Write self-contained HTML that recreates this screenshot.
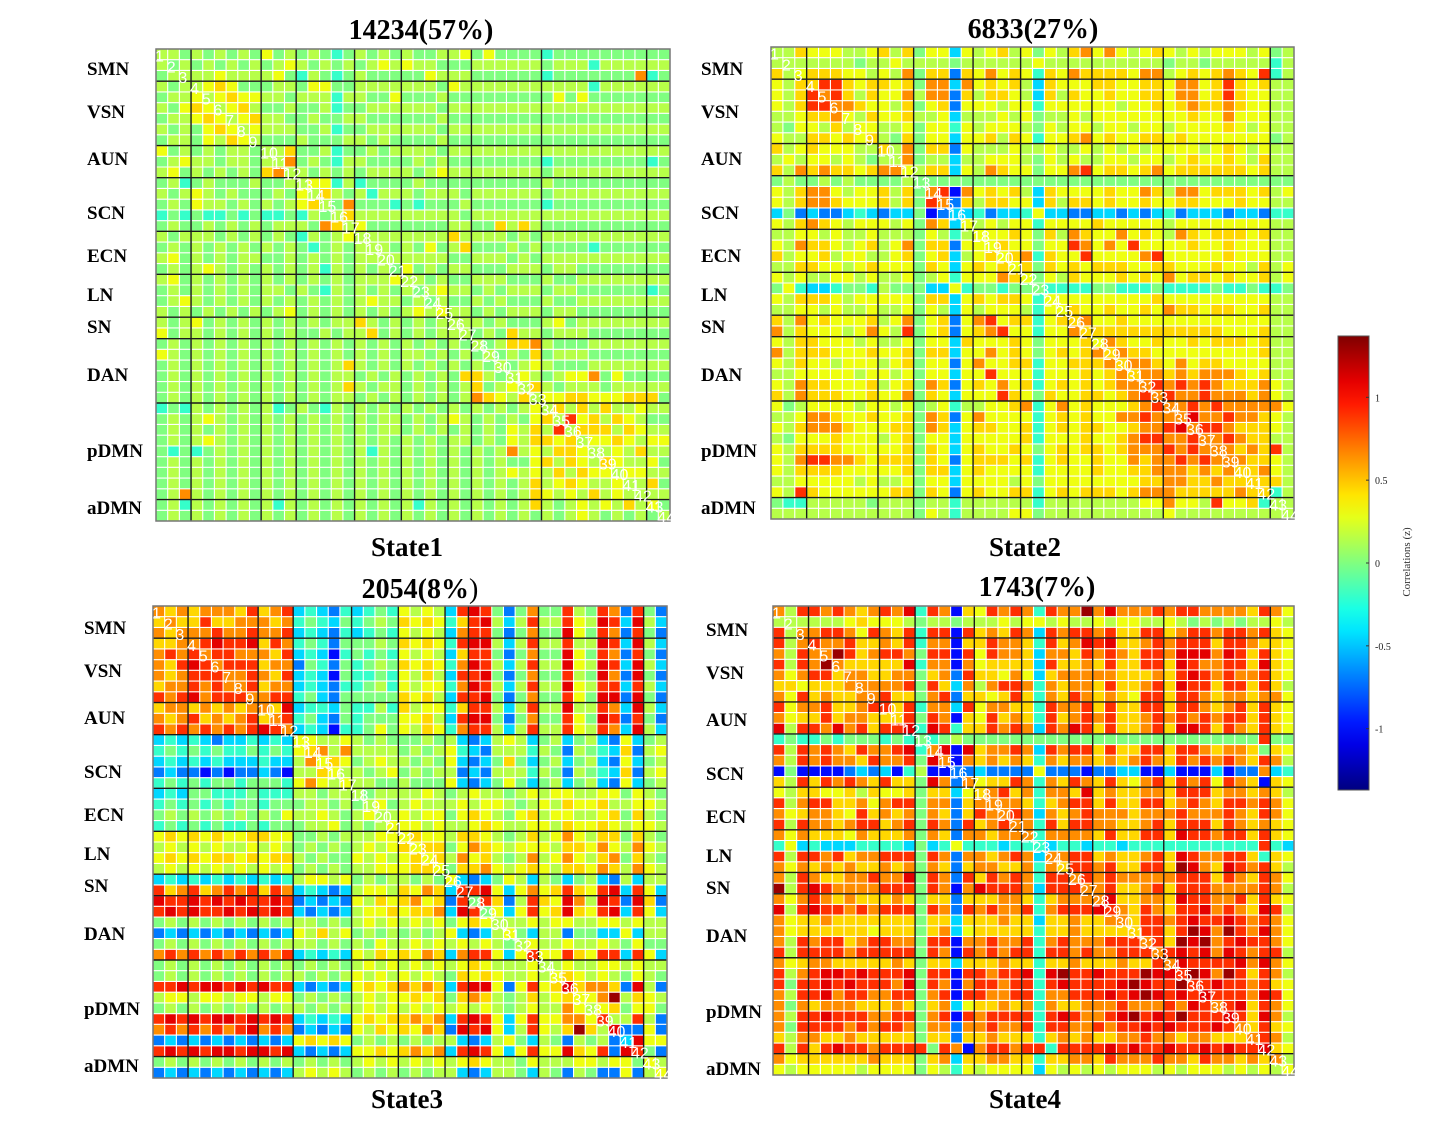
<!DOCTYPE html>
<html><head><meta charset="utf-8">
<style>
html,body{margin:0;padding:0;background:#fff;}
svg{display:block;}
.t{font-family:"Liberation Serif",serif;font-weight:bold;}
</style></head>
<body>
<svg id="fig" width="1442" height="1133" viewBox="0 0 1442 1133" xmlns="http://www.w3.org/2000/svg">
<g id="panels"></g>
<g id="colorbar"></g>
</svg>
<script>
// ---- data ----
const levelCodes = "0123456789AB";
const levelValues = [-1.0,-0.7,-0.45,-0.2,0,0.15,0.3,0.45,0.65,0.9,1.1,1.3];
const networkLabels = ["SMN","VSN","AUN","SCN","ECN","LN","SN","DAN","pDMN","aDMN"];
const networkBoundaries = [3,9,12,17,21,25,27,33,42];
const stateTitles = ["14234(57%)","6833(27%)","2054(8%","1743(7%)"];
const stateTitleTails = ["","",")",""];
const stateNames = ["State1","State2","State3","State4"];
const colorbarTicks = [1,0.5,0,-0.5,-1];
const colorbarTickLabels = ["1","0.5","0","-0.5","-1"];

const state1Rows = ["5","54","455","5455","45565","546765","4556765","54546765","455465765","6454545545","45655455455","564545454785","4534544454455","54565454445465","454655454545675","3434334343343545","45445454545554875","545554545454354565","4545454545454345455","56454545544545454555","454565454545453545454","5645454545454545455565","45454545455454354545454","456545454545454545655454","5454545454564545454545656","54564545454545455754545455","645545454545445455745454555","4545454545454545454545454545","65454545454545454545455454545","454545454545454575454545454545","4545454545454545545454545477545","45454545454545457545545454574565","454545454545454554545454545876575","3435454545345435454545454545454565","45456545454545454545545456545454675","454545454545454545455454545454657595","4545654545454545454545454554546577675","43434545454545454535454545454585657765","4545454545454545454545454545454467576575","4545454545454545454545454545456565757665","45454545454545454545454545454545756765565","458545454545454545454545454545457656575655","45354545453545454545453545454545754565657563","45454545454545454545454545454545454565454545354"];

const state2Rows = ["5","55","756","6577","65798","657998","5567786","54665756","655776767","7567666557","56566565455","758787767886","4544545444454","65788656675748","657887666757498","2412112321224012","65787656665648726","556656556555465356","6587765675684771666","75667566556746725676","557766567666476267676","6565566565564563666876","46322344354442263443444","657776566666477267677636","5566565565564652656665366","75867666756846716896773677","857666568659467167896636687","6577666565564662766676466676","85777666766747726686764676787","657665666567466168667736677787","5566666566564662669666366676787","65877666756748716768673676767888","758777667668476266697647667767898","6456666566564563556678368676667898","55688766766748716866663676766889888","657888766677487267766736767766788 9A8","5466676665674662666667366676678998898","65777766666747626766764676776788898988","658998876777476167776736766766878898988","6577776666674772676666366667667788878787","556666656556466266665646666666677887787 77","659766666677476167667736767776788877777877","4335555545554553555555355555555668665966735","55555555555546535555664555555555565555555555"];

const state3Rows = ["8","78","878","7788","89898","879A98","8789998","78898988","989A89998","7887878788","87897878978","989898989A98","2323212232326","34343433434367","232323222322586","1211010112105576","34343443444368656","232443334333554555","3434343443444554545","45454545454655654565","343434334344455645456","6767676677664454555666","56565655656545454565676","676767767677545446565676","5656565656564545455666776","23232323232356656454554546","978978989798232125665768729","A99A9A9A99A9121216576786719","9A9A99A9A9A921212566767782A9","454545454545554545656565646765","1212121212126575645454545621256","45454545454555454546556565656545","898989898989232326576768728996269","4545454545454545456565656567655565","45454545454554545656565654767655656","99A9AA9A9A99212126767878729AA616967A","5665665665664545456566767478754575676","45454545454554545565656565656545655865","9A9A9AA9A9A9232326767787829A96269668869","89898989A8981212165767687 1A9A6259657B75AA","12121212121267676454545455212564254154512 6","9A9A9AA9AA9A212126676787829A9626966A7691A9","4545454545454545456565656567655465556656646 5","12121212121256565454545455212554254154116156"];

const state4Rows = ["8","55","958","9589","85988","9598B8","8689978","77677788","869787788","9688977899","86779788777","A5998A89799A","3433434443434","95989879889A38","8598988798894A8","0400001212035001","7597989879774A818","657766757667477267","9589977868994881788","86788769787848717988","959887899789498197898","8687776877784871887888","36232223333242363332333","959989788999498188789828","8687878778784871788778387","85987788988A49819798983998","B59A9888899949808A999829998","8689878777874771777887378888","A59A998989994981989889389 99A9","867787777777477277787727787788","8677777767774782677777377877777","8598997899884990889889389888 9998","959999899999498098989939989889998","8678877777874772777877377877787798","9589AA9A999A499099899A3AB99A999BAA9","9499A9A9998A498089989939A9999ABA99B9","8599A899889948909988993889 99A9ABA9A9A","84878887778747826778783877888988898A98","8599A999889948909899993 9A9889AB9A9B999A","84999989899848818898893998898 99A9A999A98","7588778777774771778777378787788988788 7778","95979A998999949808998993999 9A9A99A99A9A99A9","86777777877747827788773778879888988798878787 8","6566666566664653656666265656566656566656565656"];

// ---- layout ----
const N = 44;
const panels = [
  {x:156,y:49,w:514,h:472,lx:87, ly:[68,111,158,212,255,294,326,374,450,507], tx:421,ty:39, sx:407,sy:556, rows:state1Rows},
  {x:771,y:47,w:523,h:472,lx:701,ly:[68,111,158,212,255,294,326,374,450,507], tx:1033,ty:38, sx:1025,sy:556, rows:state2Rows},
  {x:153,y:606,w:514,h:472,lx:84, ly:[627,670,717,771,814,853,885,933,1008,1065], tx:420,ty:598, sx:407,sy:1108, rows:state3Rows},
  {x:773,y:606,w:521,h:469,lx:706,ly:[629,672,719,773,816,855,887,935,1011,1068], tx:1037,ty:596, sx:1025,sy:1108, rows:state4Rows}
];
const vmin=-1.37, vmax=1.37;
function clamp(v){return Math.max(0,Math.min(1,v));}
function jet(v){
  const t=(v-vmin)/(vmax-vmin);
  const r=clamp(1.5-Math.abs(4*t-3)), g=clamp(1.5-Math.abs(4*t-2)), b=clamp(1.5-Math.abs(4*t-1));
  return "rgb("+Math.round(r*255)+","+Math.round(g*255)+","+Math.round(b*255)+")";
}
function decodeRow(str,i){
  const s=str.replace(/\s/g,"");
  const out=[];
  for(let j=0;j<=i;j++){
    const c=j<s.length?s[j]:"4";
    let k=levelCodes.indexOf(c); if(k<0)k=4;
    out.push(levelValues[k]);
  }
  return out;
}
function buildMatrix(rows){
  const m=[];
  for(let i=0;i<N;i++){m.push(new Array(N).fill(0));}
  for(let i=0;i<N;i++){
    const r=decodeRow(rows[i]||"",i);
    for(let j=0;j<=i;j++){m[i][j]=r[j];m[j][i]=r[j];}
  }
  return m;
}
const NS="http://www.w3.org/2000/svg";
function mk(tag,attrs,parent){const e=document.createElementNS(NS,tag);for(const k in attrs)e.setAttribute(k,attrs[k]);parent.appendChild(e);return e;}
const root=document.getElementById("panels");

panels.forEach((p,pi)=>{
  const g=mk("g",{},root);
  
  
  const m=buildMatrix(p.rows);
  const cw=p.w/N, ch=p.h/N;
  const xs=j=>p.x+j*cw, ys=i=>p.y+i*ch;
  const cells=mk("g",{},g);
  
  
  for(let i=0;i<N;i++)for(let j=0;j<N;j++){
    const r=mk("rect",{x:xs(j).toFixed(2),y:ys(i).toFixed(2),width:(cw+0.3).toFixed(2),height:(ch+0.3).toFixed(2),fill:jet(m[i][j])},cells);
    
    
  }
  let d="";
  for(let k=1;k<N;k++){d+="M"+xs(k).toFixed(2)+" "+p.y+"V"+(p.y+p.h)+"M"+p.x+" "+ys(k).toFixed(2)+"H"+(p.x+p.w);}
  const grid=mk("path",{d:d,stroke:"#fff","stroke-width":1.1,fill:"none"},g);
  
  
  let d2="";
  networkBoundaries.forEach(b=>{d2+="M"+xs(b).toFixed(2)+" "+p.y+"V"+(p.y+p.h)+"M"+p.x+" "+ys(b).toFixed(2)+"H"+(p.x+p.w);});
  const bl=mk("path",{d:d2,stroke:"#1a1a1a","stroke-width":1.4,fill:"none"},g);
  
  
  const fr=mk("rect",{x:p.x,y:p.y,width:p.w,height:p.h,fill:"none",stroke:"#777","stroke-width":1.5},g);
  
  
  for(let k=0;k<N;k++){
    const t=mk("text",{x:(xs(k)-1).toFixed(1),y:(ys(k)+ch+2).toFixed(1),fill:"#fff","font-family":"Liberation Sans, sans-serif","font-size":16},g);
    t.textContent=String(k+1);
    
    
  }
  networkLabels.forEach((lab,li)=>{
    const t=mk("text",{x:p.lx,y:p.ly[li]+7,"font-size":19,"class":"t",fill:"#000"},g);
    t.textContent=lab;
    
    
  });
  const tt=mk("text",{x:p.tx,y:p.ty,"font-size":28,"class":"t","text-anchor":"middle",fill:"#000"},g);
  tt.textContent=stateTitles[pi];
  if(stateTitleTails[pi]){const ts=mk("tspan",{"font-weight":"normal"},tt);ts.textContent=stateTitleTails[pi];}
  
  
  const st=mk("text",{x:p.sx,y:p.sy,"font-size":27,"class":"t","text-anchor":"middle",fill:"#000"},g);
  st.textContent=stateNames[pi];
  
  
});

const cb=document.getElementById("colorbar");
const cbX=1338,cbY=336,cbW=31,cbH=454;
const defs=mk("defs",{},cb);
const lg=mk("linearGradient",{id:"jetg",x1:0,y1:1,x2:0,y2:0},defs);
for(let s=0;s<=20;s++){const v=vmin+(vmax-vmin)*s/20;mk("stop",{offset:(s/20),"stop-color":jet(v)},lg);}
const cbr=mk("rect",{x:cbX,y:cbY,width:cbW,height:cbH,fill:"url(#jetg)",stroke:"#555","stroke-width":1},cb);


const cy=v=>cbY+cbH*(vmax-v)/(vmax-vmin);
colorbarTicks.forEach((v,i)=>{
  const l=mk("line",{x1:cbX+cbW-3,x2:cbX+cbW,y1:cy(v),y2:cy(v),stroke:"#333","stroke-width":1},cb);
  
  
  const t=mk("text",{x:cbX+cbW+6,y:cy(v)+4,"font-family":"Liberation Serif, serif","font-size":10,fill:"#222"},cb);
  t.textContent=colorbarTickLabels[i];
  
  
});
const ct=mk("text",{x:0,y:0,"font-family":"Liberation Serif, serif","font-size":11,fill:"#333","text-anchor":"middle",transform:"translate(1410,562) rotate(-90)"},cb);
ct.textContent="Correlations (z)";


</script>
</body></html>
